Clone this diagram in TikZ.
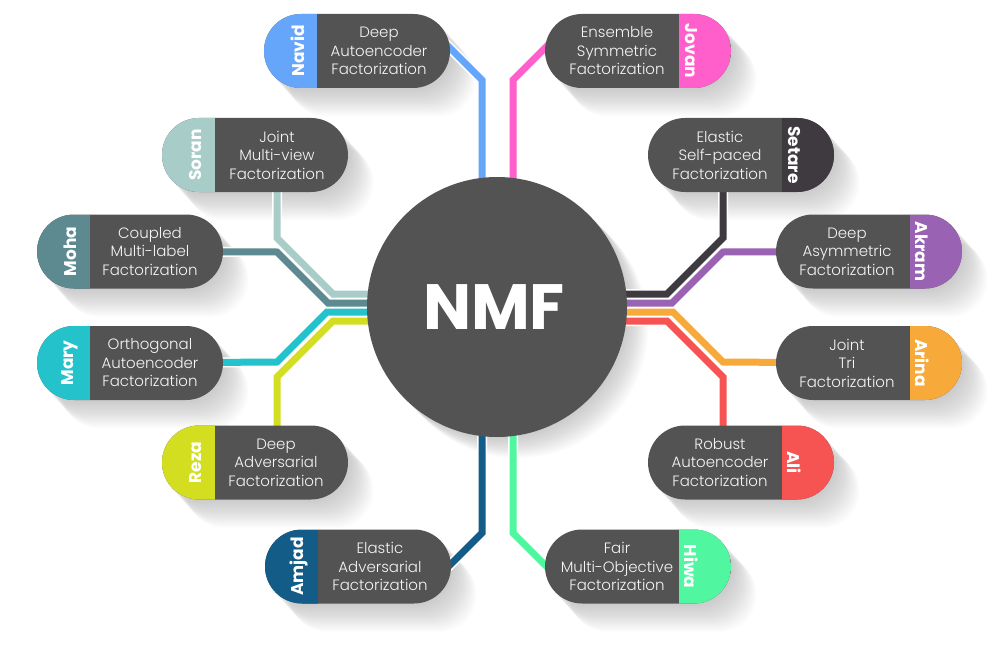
\documentclass[tikz,border=0pt]{standalone}
\usepackage{fontspec}
\setmainfont{Poppins}
\newfontfamily\lightfont{Poppins Light}
\usetikzlibrary{calc}
\pgfdeclarelayer{shadow}
\pgfdeclarelayer{links}
\pgfsetlayers{shadow,links,main}

\definecolor{body}{HTML}{535353}
\definecolor{cNavid}{HTML}{66A6FA}
\definecolor{cJovan}{HTML}{FF5FCB}
\definecolor{cSoran}{HTML}{A8CCC8}
\definecolor{cSetare}{HTML}{3F3A40}
\definecolor{cMoha}{HTML}{5C8A90}
\definecolor{cAkram}{HTML}{9A62B3}
\definecolor{cMary}{HTML}{24C3CC}
\definecolor{cArina}{HTML}{F7AA3A}
\definecolor{cReza}{HTML}{D4DE21}
\definecolor{cAli}{HTML}{F65353}
\definecolor{cAmjad}{HTML}{125C87}
\definecolor{cHiwa}{HTML}{50F7A0}

\begin{document}
\begin{tikzpicture}[x=1pt,y=-1pt,
  pill/.style={rectangle, rounded corners=37pt, minimum width=186pt,
    minimum height=74pt, fill=body, inner sep=0pt},
  bandL/.style={pill, path picture={\fill[#1, sharp corners] (path picture bounding box.north west)
    rectangle ([xshift=53pt]path picture bounding box.south west);}},
  bandR/.style={pill, path picture={\fill[#1, sharp corners] ([xshift=-52pt]path picture bounding box.north east)
    rectangle (path picture bounding box.south east);}},
  nameL/.style={rotate=90, text=white, inner sep=0pt, font=\bfseries\fontsize{17}{17}\selectfont},
  nameR/.style={rotate=-90, text=white, inner sep=0pt, font=\bfseries\fontsize{17}{17}\selectfont},
  txt/.style={align=center, text=white!94!body, inner sep=0pt,
    font=\lightfont\fontsize{15}{18.5}\selectfont},
  link/.style={line width=7pt, draw=#1, preaction={draw=white, line width=10pt}},
  hub/.style={circle, fill=body, minimum size=260pt, inner sep=0pt},
]
\useasboundingbox (0,0) rectangle (1000,647);

% hub
\node[hub] (nmf) at (497,307) {};
\node[text=white, inner sep=0pt, font=\bfseries\fontsize{64}{64}\selectfont] (nmflabel) at (494,307) {NMF};

% left column
\node[bandL=cNavid] (navid) at (357,51) {};
\node[nameL] (navidname) at (298,51) {Navid};
\node[txt] (navidtxt) at (379,51) {Deep\\Autoencoder\\Factorization};

\node[bandL=cSoran] (soran) at (255,155) {};
\node[nameL] (soranname) at (196,155) {Soran};
\node[txt] (sorantxt) at (277,155) {Joint\\Multi-view\\Factorization};

\node[bandL=cMoha] (moha) at (130,251.5) {};
\node[nameL] (mohaname) at (70,251.5) {Moha};
\node[txt] (mohatxt) at (150,251.5) {Coupled\\Multi-label\\Factorization};

\node[bandL=cMary] (mary) at (130,363) {};
\node[nameL] (maryname) at (70,363) {Mary};
\node[txt] (marytxt) at (150,363) {Orthogonal\\Autoencoder\\Factorization};

\node[bandL=cReza] (reza) at (255,462.5) {};
\node[nameL] (rezaname) at (196,462.5) {Reza};
\node[txt] (rezatxt) at (276,462.5) {Deep\\Adversarial\\Factorization};

\node[bandL=cAmjad] (amjad) at (358,566.5) {};
\node[nameL] (amjadname) at (299,566.5) {Amjad};
\node[txt] (amjadtxt) at (380,566.5) {Elastic\\Adversarial\\Factorization};

% right column
\node[bandR=cJovan] (jovan) at (638,51) {};
\node[nameR] (jovanname) at (691,51) {Jovan};
\node[txt] (jovantxt) at (617,51) {Ensemble\\Symmetric\\Factorization};

\node[bandR=cSetare] (setare) at (741,155) {};
\node[nameR] (setarename) at (794,155) {Setare};
\node[txt] (setaretxt) at (720,155) {Elastic\\Self-paced\\Factorization};

\node[bandR=cAkram] (akram) at (869,251.5) {};
\node[nameR] (akramname) at (922,251.5) {Akram};
\node[txt] (akramtxt) at (847,251.5) {Deep\\Asymmetric\\Factorization};

\node[bandR=cArina] (arina) at (869,363) {};
\node[nameR] (arinaname) at (922,363) {Arina};
\node[txt] (arinatxt) at (847,363) {Joint\\Tri\\Factorization};

\node[bandR=cAli] (ali) at (741,462.5) {};
\node[nameR] (aliname) at (794,462.5) {Ali};
\node[txt] (alitxt) at (720,462.5) {Robust\\Autoencoder\\Factorization};

\node[bandR=cHiwa] (hiwa) at (638,566.5) {};
\node[nameR] (hiwaname) at (691,566.5) {Hiwa};
\node[txt] (hiwatxt) at (617,566.5) {Fair\\Multi-Objective\\Factorization};

% soft long shadows behind the pills and the hub
\begin{pgfonlayer}{shadow}
  \foreach \n in {navid,soran,moha,mary,reza,amjad,jovan,setare,akram,arina,ali,hiwa}
    \foreach \k in {1,...,14}
      \fill[black, opacity=0.014, rounded corners=37pt]
        ([shift={(1.8*\k,2*\k)}]\n.north west) rectangle ([shift={(1.8*\k,2*\k)}]\n.south east);
  \foreach \k in {1,...,14}
    \fill[black, opacity=0.014] ([shift={(1.5*\k,1.5*\k)}]nmf.center) circle (130);
\end{pgfonlayer}

% connectors from each pill into the hub
\begin{pgfonlayer}{links}
  \draw[link=cNavid] (navid.center) -- (437,35) -- (482,80) -- (482,250) -- (nmf.center);
  \draw[link=cJovan] (jovan.center) -- (560,33) -- (513,80) -- (513,250) -- (nmf.center);
  \draw[link=cAmjad] (amjad.center) -- (440,575) -- (482,533) -- (482,370) -- (nmf.center);
  \draw[link=cHiwa] (hiwa.center) -- (558,578) -- (513,533) -- (513,370) -- (nmf.center);

  \draw[link=cSoran] (soran.center) -- (277,165) -- (277,238) -- (333,294) -- (420,294) -- (nmf.center);
  \draw[link=cMoha] (moha.center) -- (277,252) -- (328,303) -- (420,303) -- (nmf.center);
  \draw[link=cMary] (mary.center) -- (277,362) -- (327,312) -- (420,312) -- (nmf.center);
  \draw[link=cReza] (reza.center) -- (277,450) -- (277,377) -- (333,321) -- (420,321) -- (nmf.center);

  \draw[link=cSetare] (setare.center) -- (723,165) -- (723,238) -- (667,294) -- (580,294) -- (nmf.center);
  \draw[link=cAkram] (akram.center) -- (723,252) -- (672,303) -- (580,303) -- (nmf.center);
  \draw[link=cArina] (arina.center) -- (723,362) -- (673,312) -- (580,312) -- (nmf.center);
  \draw[link=cAli] (ali.center) -- (723,450) -- (723,377) -- (667,321) -- (580,321) -- (nmf.center);
\end{pgfonlayer}
\end{tikzpicture}
\end{document}
